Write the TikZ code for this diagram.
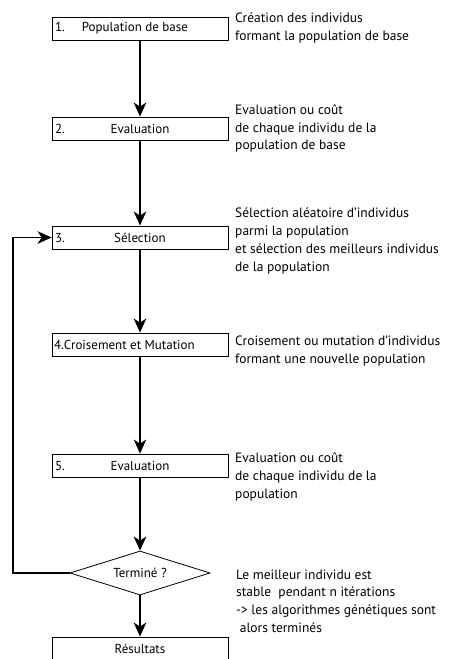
\documentclass[tikz,border=0pt]{standalone}
\usepackage{fontspec}
\setmainfont{PT Sans}
\usetikzlibrary{shapes.geometric,arrows.meta}
\begin{document}
\begin{tikzpicture}[x=1pt,y=-1pt,
  stepbox/.style={draw,line width=0.8pt,minimum width=176pt,minimum height=23pt,inner sep=2pt,font=\fontsize{13}{16}\selectfont},
  note/.style={anchor=west,align=left,inner sep=0pt,font=\fontsize{13.5}{17.8}\selectfont},
  flow/.style={line width=1.8pt,-{Stealth[length=14pt,width=12.5pt,inset=4pt]}},
  ]
\useasboundingbox (0,0) rectangle (453,659);
\node[stepbox] (b1) at (140,28.5) {\makebox[170pt][l]{1.\hspace{17pt}Population de base}};
\node[stepbox] (b2) at (140,128.5) {\makebox[170pt]{\rlap{2.}\hfill Evaluation\hfill}};
\node[stepbox] (b3) at (140,237.5) {\makebox[170pt]{\rlap{3.}\hfill Sélection\hfill}};
\node[stepbox] (b4) at (140,344.5) {\makebox[172pt][l]{4.Croisement et Mutation}};
\node[stepbox] (b5) at (140,465.5) {\makebox[170pt]{\rlap{5.}\hfill Evaluation\hfill}};
\node[draw,diamond,line width=0.8pt,minimum width=140pt,minimum height=44pt,inner sep=0pt,shape aspect=3.2,font=\fontsize{13}{16}\selectfont] (d) at (140,573) {Terminé ?};
\node[stepbox,minimum height=24pt] (r) at (140,649) {Résultats};

\node[note] (t1) at (235,28) {Création des individus\\formant la population de base};
\node[note] (t2) at (235,128.5) {Evaluation ou coût\\de chaque individu de la\\population de base};
\node[note] (t3) at (235,241) {Sélection aléatoire d’individus\\parmi la population\\et sélection des meilleurs individus\\de la population};
\node[note] (t4) at (235,351) {Croisement ou mutation d’individus\\formant une nouvelle population};
\node[note] (t5) at (235,477) {Evaluation ou coût\\de chaque individu de la\\population};
\node[note] (t6) at (236,601) {Le meilleur individu est\\stable\ \ pendant n itérations\\-> les algorithmes génétiques sont\\\ alors terminés};

\draw[flow] (b1) -- (b2);
\draw[flow] (b2) -- (b3);
\draw[flow] (b3) -- (b4);
\draw[flow] (b4) -- (b5);
\draw[flow] (b5) -- (d);
\draw[flow] (d) -- (r);
\coordinate (lc) at (13,0);
\draw[flow] (d.west) -- (d.west -| lc) -- (b3.west -| lc) -- (b3.west);
\end{tikzpicture}
\end{document}
